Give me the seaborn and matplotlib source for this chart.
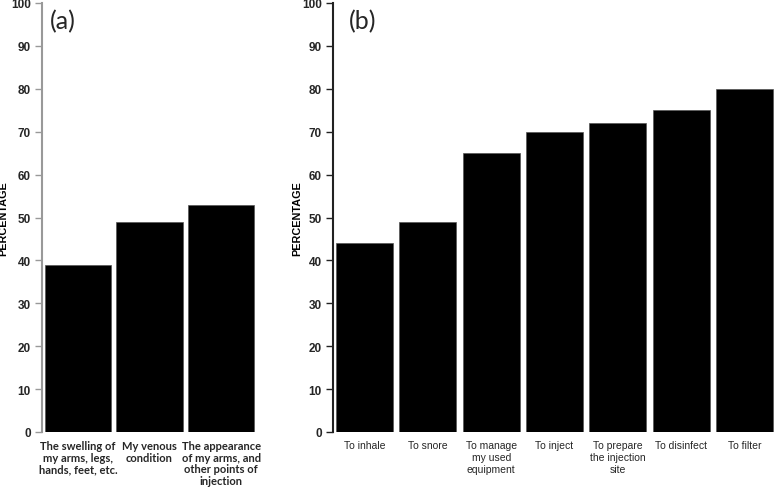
import matplotlib
matplotlib.use('Agg')
import matplotlib.pyplot as plt
import seaborn as sns
import pandas as pd

# panel (a)
cats_a = ["The swelling of\nmy arms, legs,\nhands, feet, etc.",
          "My venous\ncondition",
          "The appearance\nof my arms, and\nother points of\ninjection"]
vals_a = [39, 49, 53]

# panel (b)
cats_b = ["To inhale", "To snore", "To manage\nmy used\nequipment", "To inject",
          "To prepare\nthe injection\nsite", "To disinfect", "To filter"]
vals_b = [44, 49, 65, 70, 72, 75, 80]

yticks = list(range(0, 101, 10))

sns.set_theme(style="white")
plt.rcParams['font.family'] = ['Liberation Sans', 'DejaVu Sans']

fig = plt.figure(figsize=(7.78, 4.89), dpi=100)
ax_a = fig.add_axes([42 / 778, 56 / 489, 215 / 778, 429 / 489])
ax_b = fig.add_axes([333 / 778, 56 / 489, 443 / 778, 429 / 489])

df_a = pd.DataFrame({"cat": cats_a, "val": vals_a})
df_b = pd.DataFrame({"cat": cats_b, "val": vals_b})

sns.barplot(data=df_a, x="cat", y="val", color="black", width=0.93,
            edgecolor="#555555", linewidth=0.5, ax=ax_a)
sns.barplot(data=df_b, x="cat", y="val", color="black", width=0.9,
            edgecolor="#555555", linewidth=0.5, ax=ax_b)

setup = [(ax_a, "(a)", "#999999", 3, -0.155), (ax_b, "(b)", "#222222", 7, -0.07)]
for ax, label, spine_col, n, lx in setup:
    ax.set_ylim(0, 100)
    ax.set_xlim(-0.5, n - 0.5)
    ax.set_yticks(yticks)
    ax.set_yticklabels([str(t) for t in yticks], fontsize=8.5, fontweight="bold")
    ax.set_xlabel("")
    ax.set_ylabel("PERCENTAGE")
    ax.yaxis.label.set_fontsize(7.8)
    ax.yaxis.label.set_fontweight("bold")
    ax.yaxis.label.set_color("black")
    ax.yaxis.set_label_coords(lx, 0.5)
    for s in ["top", "right", "bottom"]:
        ax.spines[s].set_visible(False)
    ax.spines["left"].set_color(spine_col)
    ax.spines["left"].set_linewidth(1.5)
    ax.tick_params(axis="y", direction="out", length=5, width=1, color=spine_col, left=True, pad=3)
    ax.tick_params(axis="x", length=0, pad=6)
    ax.text(0.035, 0.985, label, transform=ax.transAxes, fontsize=18,
            family=["Lato", "DejaVu Sans"], va="top", ha="left")

for t in ax_a.get_xticklabels():
    t.set_family(["Lato", "DejaVu Sans"])
    t.set_fontsize(8)
    t.set_fontweight("bold")
    t.set_linespacing(1.05)
for t in ax_b.get_xticklabels():
    t.set_fontsize(7.5)
    t.set_linespacing(1.25)

fig.savefig("out.png", dpi=100)
